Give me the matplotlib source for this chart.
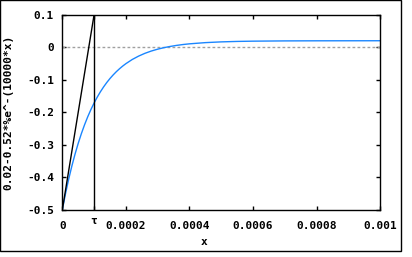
# Step response curve with tangent at the origin, gnuplot look

import matplotlib.pyplot as plt
from matplotlib.patches import Rectangle

# curve
x_curve = [0.0, 0.00001, 0.00002, 0.00003, 0.00004, 0.00005, 0.00006,
           0.00007, 0.00008, 0.00009, 0.0001, 0.00011, 0.00012, 0.00013,
           0.00014, 0.00015, 0.00016, 0.00017, 0.00018, 0.00019, 0.0002,
           0.00022, 0.00024, 0.00026, 0.00028, 0.0003, 0.00032, 0.00034,
           0.00036, 0.00038, 0.0004, 0.00045, 0.0005, 0.00055, 0.0006,
           0.0007, 0.0008, 0.0009, 0.001]
y_curve = [-0.5, -0.4505, -0.4057, -0.3652, -0.3286, -0.2954, -0.2654,
           -0.2382, -0.2136, -0.1914, -0.1713, -0.1531, -0.1366, -0.1217,
           -0.1082, -0.0960, -0.0850, -0.0750, -0.0660, -0.0578, -0.0504,
           -0.0376, -0.0272, -0.0186, -0.0116, -0.0059, -0.0012, 0.0026,
           0.0058, 0.0084, 0.0105, 0.0142, 0.0165, 0.0179, 0.0187,
           0.0195, 0.0198, 0.0199, 0.0200]

# tangent from the start point
x_tangent = [0.0, 0.0001]
y_tangent = [-0.5, 0.1]

tau = 0.0001

x_ticks = [0, 0.0001, 0.0002, 0.0004, 0.0006, 0.0008, 0.001]
x_tick_labels = ['0', '', '0.0002', '0.0004', '0.0006', '0.0008', '0.001']
y_ticks = [-0.5, -0.4, -0.3, -0.2, -0.1, 0, 0.1]
y_tick_labels = ['-0.5', '-0.4', '-0.3', '-0.2', '-0.1', '0', '0.1']

font = dict(family='DejaVu Sans Mono', weight='bold', size=8)

fig = plt.figure(figsize=(4.12, 2.57), dpi=100)
ax = fig.add_axes([0.1512, 0.1829, 0.7718, 0.7599])

# outer frame of the canvas
fig.patches.append(Rectangle((0.001, 0.0233), 0.9723, 0.975,
                             transform=fig.transFigure, fill=False,
                             edgecolor='black', linewidth=1.0))

ax.axhline(0, color='#a0a0a0', linewidth=1.0, linestyle=(0, (2, 1.6)))
ax.plot(x_curve, y_curve, color='#1a86ff', linewidth=1.0)
ax.plot(x_tangent, y_tangent, color='black', linewidth=1.0)
ax.axvline(tau, color='black', linewidth=1.0)

ax.set_xlim(0, 0.001)
ax.set_ylim(-0.5, 0.1)

ax.set_xticks(x_ticks)
ax.set_xticklabels(x_tick_labels, fontdict=font)
ax.set_yticks(y_ticks)
ax.set_yticklabels(y_tick_labels, fontdict=font)

ax.tick_params(direction='in', length=3, width=1.0, top=True, right=True)
ax.tick_params(axis='x', pad=8)
ax.tick_params(axis='y', pad=6)

# the tau label sits a bit higher than the other tick labels
ax.text(tau, -0.054, '\u03c4', transform=ax.get_xaxis_transform(),
        ha='center', va='center', fontdict=font)

for spine in ax.spines.values():
    spine.set_linewidth(1.0)

ax.set_ylabel('0.02-0.52*%e^-(10000*x)', fontdict=font)
ax.yaxis.set_label_coords(-0.155, 0.5)
ax.set_xlabel('x', fontdict=font)
ax.xaxis.set_label_coords(0.4456, -0.164)
ax.xaxis.label.set_verticalalignment('center')

fig.savefig('out.png', dpi=100)
